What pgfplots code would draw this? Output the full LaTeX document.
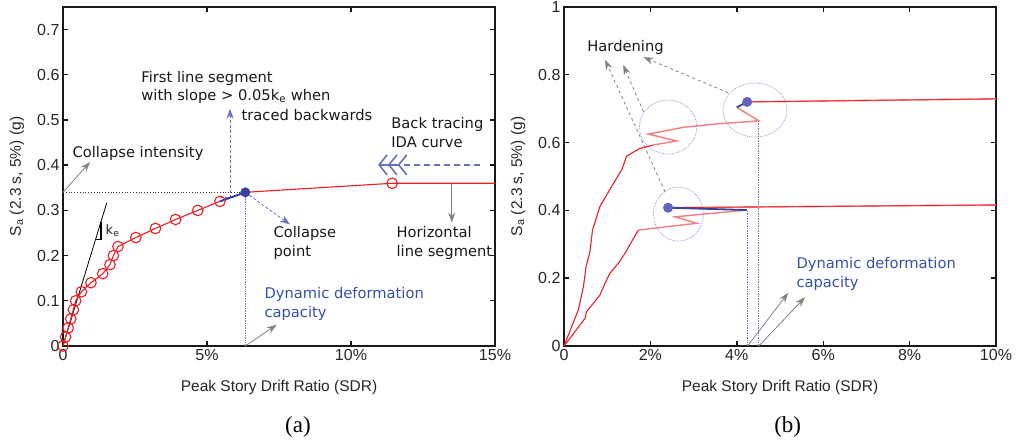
\documentclass[border=0pt]{standalone}
\usepackage{fontspec}
\setmainfont{Liberation Sans}
\newfontfamily\dv{DejaVu Sans}
\newfontfamily\tnr{Liberation Serif}
\usepackage{pgfplots}
\pgfplotsset{compat=1.18}
\usetikzlibrary{arrows.meta}

\definecolor{cred}{RGB}{235,30,35}
\definecolor{lred}{RGB}{242,125,130}
\definecolor{cblue}{RGB}{55,65,155}
\definecolor{tblue}{RGB}{55,80,170}
\definecolor{dblue}{RGB}{105,110,200}
\definecolor{cgray}{RGB}{130,130,130}
\definecolor{circ}{RGB}{150,150,215}
\definecolor{dotc}{RGB}{100,100,190}

\newcommand{\anno}{\dv\fontsize{14.7}{18.5}\selectfont}

\pgfplotsset{mystyle/.style={
  scale only axis, width=432pt, height=339pt, clip=false,
  axis line style={line width=2.2pt, black!90},
  tick style={line width=1.4pt, black!90},
  major tick length=5pt,
  tick align=inside,
  ticklabel style={font=\fontsize{16}{18}\selectfont, text=black!85},
  label style={font=\fontsize{15.5}{18}\selectfont, text=black!85},
  xlabel={Peak Story Drift Ratio (SDR)},
  ylabel={S\textsubscript{a} (2.3 s, 5\%) (g)},
  xlabel style={at={(axis description cs:0.5,-0.121)}, anchor=center},
  ylabel style={at={(axis description cs:-0.1065,0.5)}, anchor=center},
}}

\begin{document}
\begin{tikzpicture}
\useasboundingbox (0,0) rectangle (1023pt,444pt);

% ---------------- (a) ----------------
\begin{axis}[mystyle, at={(63pt,98pt)}, anchor=south west,
  xmin=0, xmax=15, ymin=0, ymax=0.75,
  xtick={0,5,10,15}, xticklabels={0,5\%,10\%,15\%},
  ytick={0,0.1,0.2,0.3,0.4,0.5,0.6,0.7},
  yticklabels={0,0.1,0.2,0.3,0.4,0.5,0.6,0.7}]

% guide lines
\draw[black!80, dotted, line width=0.8pt] (0,0.34) -- (6.33,0.34);
\draw[dblue, densely dotted, line width=0.7pt] (6.33,0) -- (6.33,0.34);
\draw[dblue, densely dashed, line width=0.8pt] (5.45,0.328) -- (5.8,0.328);
\draw[dblue, densely dashed, line width=0.8pt, -{Stealth[length=10pt,width=7pt]}] (5.8,0.328) -- (5.8,0.525);
\draw[dblue, densely dashed, line width=0.8pt, -{Stealth[length=10pt,width=7pt]}] (6.33,0.34) -- (7.88,0.269);
\draw[cgray, line width=0.8pt, -{Stealth[length=10pt,width=7pt]}] (0,0.34) -- (0.94,0.407);
\draw[cgray, line width=0.8pt, -{Stealth[length=10pt,width=7pt]}] (6.33,0) -- (7.42,0.047);
\draw[cgray, line width=0.8pt, -{Stealth[length=10pt,width=7pt]}] (13.5,0.358) -- (13.5,0.273);
\draw[dblue, line width=1.6pt, dash pattern=on 6pt off 4pt] (14.48,0.4007) -- (11.3,0.4007);
\draw[dblue, line width=1.6pt,
  -{Straight Barb[length=8pt,width=20pt] Straight Barb[length=8pt,width=20pt] Straight Barb[length=8pt,width=20pt]}]
  (11.6,0.4007) -- (10.94,0.4007);

% k_e line and slope triangle
\addplot[black, line width=0.8pt] coordinates {(0,0) (1.52,0.317)};
\draw[black, line width=1.3pt] (1.129,0.2356) -- (1.32,0.2356) -- (1.32,0.275);
\node[font=\dv\fontsize{13}{15}\selectfont, text=black!85] at (1.72,0.256) {k\textsubscript{e}};

% IDA curve
\addplot[cred, line width=1.1pt, mark=o, mark size=5.3pt, mark options={line width=1.1pt, solid}]
coordinates {(0,0) (0.09,0.02) (0.18,0.04) (0.27,0.06) (0.36,0.08) (0.44,0.10)
 (0.64,0.12) (0.97,0.14) (1.38,0.16) (1.63,0.18) (1.75,0.20) (1.91,0.22)
 (2.53,0.24) (3.21,0.26) (3.91,0.28) (4.68,0.30) (5.45,0.32)};
\addplot[cblue, line width=2pt] coordinates {(5.45,0.32) (6.33,0.34)};
\addplot[cred, line width=1.1pt] coordinates {(6.33,0.34) (11.43,0.36) (15,0.36)};
\addplot[cred, only marks, mark=o, mark size=5.3pt, mark options={line width=1.1pt}] coordinates {(11.43,0.36)};
\addplot[cblue, only marks, mark=*, mark size=4.7pt] coordinates {(6.33,0.34)};

% texts
\node[anchor=west, font=\anno, text=black!90] at (0.21,0.427) {Collapse intensity};
\node[anchor=west, align=left, font=\anno, text=black!90] at (2.6,0.572) {First line segment\\with slope > 0.05k\textsubscript{e} when};
\node[anchor=west, font=\anno, text=black!90] at (6.08,0.511) {traced backwards};
\node[anchor=west, align=left, font=\anno, text=black!90] at (11.28,0.472) {Back tracing\\IDA curve};
\node[anchor=west, align=left, font=\anno, text=black!90] at (7.19,0.228) {Collapse\\point};
\node[anchor=west, align=left, font=\anno, text=black!90] at (11.46,0.228) {Horizontal\\line segment};
\node[anchor=west, align=left, font=\anno, text=tblue] at (6.875,0.093) {Dynamic deformation\\capacity};
\end{axis}

% ---------------- (b) ----------------
\begin{axis}[mystyle, at={(564pt,98pt)}, anchor=south west,
  xmin=0, xmax=10, ymin=0, ymax=1,
  xtick={0,2,4,6,8,10}, xticklabels={0,2\%,4\%,6\%,8\%,10\%},
  ytick={0,0.2,0.4,0.6,0.8,1}, yticklabels={0,0.2,0.4,0.6,0.8,1}]

% guide circles
\draw[circ, densely dotted, line width=0.8pt] (2.65,0.389) ellipse [x radius=25pt, y radius=27pt];
\draw[circ, densely dotted, line width=0.8pt] (2.41,0.646) ellipse [x radius=28.7pt, y radius=27pt];
\draw[circ, densely dotted, line width=0.8pt] (4.42,0.696) ellipse [x radius=32pt, y radius=27pt];
\draw[dblue, densely dotted, line width=0.7pt] (4.25,0) -- (4.25,0.401);
\draw[dblue, densely dotted, line width=0.7pt] (4.51,0) -- (4.51,0.664);

% hardening arrows
\draw[cgray, dashed, line width=0.8pt, -{Stealth[length=10pt,width=7pt]}] (2.34,0.455) -- (0.95,0.844);
\draw[cgray, dashed, line width=0.8pt, -{Stealth[length=10pt,width=7pt]}] (1.84,0.691) -- (1.37,0.829);
\draw[cgray, dashed, line width=0.8pt, -{Stealth[length=10pt,width=7pt]}] (3.80,0.747) -- (1.84,0.852);
\draw[cgray, line width=0.8pt, -{Stealth[length=10pt,width=7pt]}] (4.25,0) -- (5.19,0.157);
\draw[cgray, line width=0.8pt, -{Stealth[length=10pt,width=7pt]}] (4.51,0) -- (5.58,0.144);

% lower curve
\addplot[cred, line width=1.1pt] coordinates {(0,0) (0.49,0.082) (0.52,0.101) (0.68,0.126)
 (0.83,0.150) (0.95,0.185) (1.06,0.214) (1.26,0.244) (1.41,0.273) (1.72,0.342)};
\addplot[lred, line width=1.4pt] coordinates {(1.72,0.342) (3.07,0.362) (2.57,0.381) (4.23,0.401)};
\addplot[lred, line width=1.6pt] coordinates {(2.41,0.408) (10,0.416)};
\addplot[cred, line width=0.7pt] coordinates {(2.41,0.408) (10,0.416)};
\addplot[cblue, line width=1.8pt] coordinates {(4.23,0.401) (2.41,0.408)};

% upper curve
\addplot[cred, line width=1.1pt] coordinates {(0,0) (0.33,0.106) (0.45,0.175) (0.51,0.234)
 (0.60,0.278) (0.66,0.342) (0.83,0.411) (1.10,0.47) (1.34,0.521) (1.45,0.56)
 (1.76,0.583) (2.07,0.593)};
\addplot[lred, line width=1.4pt] coordinates {(2.07,0.593) (2.61,0.605) (1.95,0.625)
 (2.76,0.645) (3.53,0.655) (4.51,0.664) (4.0,0.704)};
\addplot[lred, line width=1.6pt] coordinates {(4.24,0.72) (10,0.729)};
\addplot[cred, line width=0.7pt] coordinates {(4.24,0.72) (10,0.729)};
\addplot[cblue, line width=1.8pt] coordinates {(4.0,0.704) (4.24,0.72)};

\addplot[dotc, only marks, mark=*, mark size=4.8pt] coordinates {(2.41,0.408) (4.24,0.72)};

\node[anchor=west, font=\anno, text=black!90] at (0.46,0.88) {Hardening};
\node[anchor=west, align=left, font=\anno, text=tblue] at (5.30,0.2125) {Dynamic deformation\\capacity};
\end{axis}

\node[font=\tnr\fontsize{23}{26}\selectfont] at (298pt,17pt) {(a)};
\node[font=\tnr\fontsize{23}{26}\selectfont] at (787.7pt,17pt) {(b)};
\end{tikzpicture}
\end{document}
